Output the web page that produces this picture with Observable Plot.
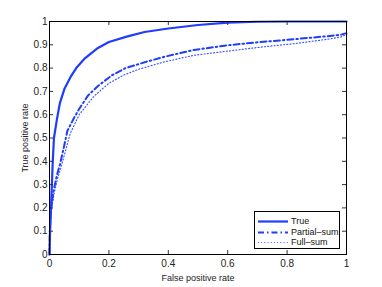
<!DOCTYPE html>
<html>
<head>
<meta charset="utf-8">
<script src="https://cdn.jsdelivr.net/npm/d3@7"></script>
<script src="https://cdn.jsdelivr.net/npm/@observablehq/plot@0.6"></script>
<style>
  html, body { margin: 0; padding: 0; background: #fff; }
  #wrap { position: relative; width: 382px; height: 287px; font-family: "Liberation Sans", Arial, sans-serif; }
  #legend { position: absolute; left: 254px; top: 211px; width: 86px; height: 38px; border: 1px solid #000; background: #fff; box-sizing: border-box; font-size: 9px; color: #111; }
  #legend .row { position: absolute; left: 2px; height: 11px; display: flex; align-items: center; white-space: nowrap; }
  #legend svg { display: block; }
  #legend span { margin-left: 3px; line-height: 11px; white-space: nowrap; }
</style>
</head>
<body>
<div id="wrap"></div>
<script>
// Series data (false positive rate, true positive rate)
const trueFpr = [0, 0.002, 0.005, 0.008, 0.011, 0.015, 0.025, 0.035, 0.05, 0.07, 0.09, 0.12, 0.16, 0.2, 0.26, 0.32, 0.4, 0.5, 0.6, 0.7, 0.8, 1];
const trueTpr = [0, 0.1, 0.2, 0.3, 0.4, 0.5, 0.58, 0.65, 0.71, 0.76, 0.8, 0.843, 0.884, 0.912, 0.935, 0.955, 0.97, 0.985, 0.995, 0.999, 1, 1];

const partialFpr = [0, 0.001, 0.004, 0.013, 0.025, 0.036, 0.05, 0.06, 0.08, 0.1, 0.13, 0.166, 0.21, 0.256, 0.323, 0.385, 0.486, 0.6, 0.711, 0.824, 0.937, 0.98, 1];
const partialTpr = [0, 0.1, 0.18, 0.27, 0.34, 0.39, 0.47, 0.53, 0.58, 0.625, 0.683, 0.726, 0.769, 0.80, 0.826, 0.848, 0.878, 0.898, 0.912, 0.924, 0.937, 0.943, 0.95];

const fullFpr = [0, 0.001, 0.005, 0.015, 0.028, 0.04, 0.055, 0.07, 0.1, 0.15, 0.2, 0.25, 0.3, 0.385, 0.486, 0.6, 0.711, 0.824, 0.937, 0.98, 1];
const fullTpr = [0, 0.1, 0.18, 0.26, 0.33, 0.38, 0.45, 0.52, 0.6, 0.68, 0.735, 0.77, 0.795, 0.826, 0.855, 0.873, 0.89, 0.905, 0.924, 0.933, 0.945];

const seriesNames = ["True", "Partial\u2013sum", "Full\u2013sum"];
const xTicks = [0, 0.2, 0.4, 0.6, 0.8, 1];
const xTickLabels = ["0", "0.2", "0.4", "0.6", "0.8", "1"];
const yTicks = [0, 0.1, 0.2, 0.3, 0.4, 0.5, 0.6, 0.7, 0.8, 0.9, 1];
const yTickLabels = ["0", "0.1", "0.2", "0.3", "0.4", "0.5", "0.6", "0.7", "0.8", "0.9", "1"];

const toRows = (xs, ys) => xs.map((x, i) => ({x, y: ys[i]}));
const trueRows = toRows(trueFpr, trueTpr);
const partialRows = toRows(partialFpr, partialTpr);
const fullRows = toRows(fullFpr, fullTpr);

const W = 382, H = 287;
const mL = 49, mR = 36, mT = 21, mB = 33;
const plotH = H - mT - mB;
const plotW = W - mL - mR;
const blue = "#1f3cff";
const tick = 4;

const chart = Plot.plot({
  width: W, height: H,
  marginLeft: mL, marginRight: mR, marginTop: mT, marginBottom: mB,
  style: {fontFamily: "Liberation Sans, Arial, sans-serif", fontSize: "10px", color: "#222", background: "#fff"},
  x: {domain: [0, 1]},
  y: {domain: [0, 1]},
  marks: [
    Plot.line(fullRows, {x: "x", y: "y", stroke: blue, strokeWidth: 1.2, strokeDasharray: "1,2.2", strokeOpacity: 0.85}),
    Plot.line(partialRows, {x: "x", y: "y", stroke: blue, strokeWidth: 2, strokeDasharray: "6,3,1.5,3"}),
    Plot.line(trueRows, {x: "x", y: "y", stroke: blue, strokeWidth: 2.2}),
    // ticks inward on all sides
    Plot.tickX(xTicks, {x: d => d, stroke: "#333", insetTop: plotH - tick}),
    Plot.tickX(xTicks, {x: d => d, stroke: "#333", insetBottom: plotH - tick}),
    Plot.tickY(yTicks, {y: d => d, stroke: "#333", insetRight: plotW - tick}),
    Plot.tickY(yTicks, {y: d => d, stroke: "#333", insetLeft: plotW - tick}),
    Plot.axisX({ticks: xTicks, tickFormat: (d, i) => xTickLabels[i], tickSize: 0, tickPadding: 5, label: null}),
    Plot.axisY({ticks: yTicks, tickFormat: (d, i) => yTickLabels[i], tickSize: 0, tickPadding: 2, label: null}),
    Plot.axisX({ticks: [], tickSize: 0, label: "False positive rate", labelAnchor: "center", labelArrow: "none", labelOffset: 26, fontSize: 9}),
    Plot.axisY({ticks: [], tickSize: 0, label: "True positive rate", labelAnchor: "center", labelArrow: "none", labelOffset: 28, fontSize: 9}),
    Plot.frame({stroke: "#000", strokeWidth: 1})
  ]
});

const wrap = document.getElementById("wrap");
wrap.appendChild(chart);

// Legend (HTML overlay)
const legend = document.createElement("div");
legend.id = "legend";
const styles = [
  {w: 2.2, dash: null, op: 1},
  {w: 2, dash: "6,3,1.5,3", op: 1},
  {w: 1.2, dash: "1,2.2", op: 0.85}
];
seriesNames.forEach((name, i) => {
  const row = document.createElement("div");
  row.className = "row";
  row.style.top = (4 + i * 10.5) + "px";
  const s = styles[i];
  row.innerHTML = `<svg width="31" height="11"><line x1="1" x2="31" y1="5.5" y2="5.5" stroke="${blue}" stroke-width="${s.w}" ${s.dash ? `stroke-dasharray="${s.dash}"` : ""} stroke-opacity="${s.op}"/></svg><span>${name}</span>`;
  legend.appendChild(row);
});
wrap.appendChild(legend);
</script>
</body>
</html>
